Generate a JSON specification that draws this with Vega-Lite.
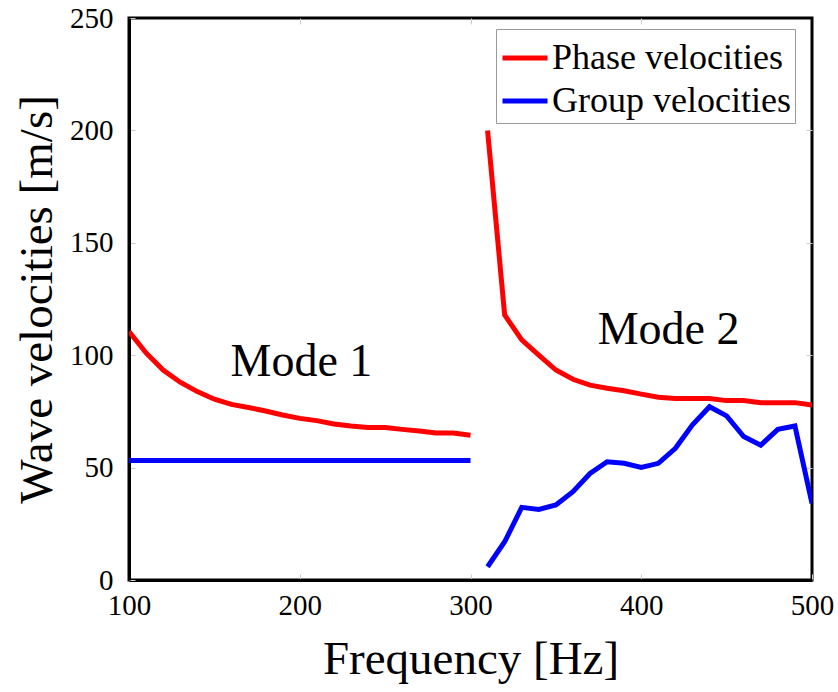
{
  "$schema": "https://vega.github.io/schema/vega-lite/v6.json",
  "width": 683,
  "height": 562,
  "autosize": "none",
  "padding": {"left": 129, "top": 18, "right": 26, "bottom": 112},
  "background": "white",
  "config": {
    "font": "'Liberation Serif', 'Times New Roman', Times, 'DejaVu Serif', serif",
    "view": {"stroke": "black", "strokeWidth": 3},
    "axis": {"grid": false, "domainColor": "black", "domainWidth": 3, "tickColor": "#cccccc", "tickSize": -6, "labelColor": "black", "titleColor": "black", "titleFontWeight": "normal", "labelFont": "'Liberation Serif', 'Times New Roman', Times, 'DejaVu Serif', serif", "titleFont": "'Liberation Serif', 'Times New Roman', Times, 'DejaVu Serif', serif", "labelFontSize": 29, "titleFontSize": 47, "labelFlush": false},
    "legend": {"labelFont": "'Liberation Serif', 'Times New Roman', Times, 'DejaVu Serif', serif"},
    "text": {"font": "'Liberation Serif', 'Times New Roman', Times, 'DejaVu Serif', serif"}
  },
  "datasets": {
    "curves": [
      {"f": 100, "v": 110.5, "type": "Phase velocities", "mode": "1"},
      {"f": 110, "v": 101, "type": "Phase velocities", "mode": "1"},
      {"f": 120, "v": 93.4, "type": "Phase velocities", "mode": "1"},
      {"f": 130, "v": 88, "type": "Phase velocities", "mode": "1"},
      {"f": 140, "v": 83.8, "type": "Phase velocities", "mode": "1"},
      {"f": 150, "v": 80.4, "type": "Phase velocities", "mode": "1"},
      {"f": 160, "v": 78.1, "type": "Phase velocities", "mode": "1"},
      {"f": 170, "v": 76.7, "type": "Phase velocities", "mode": "1"},
      {"f": 180, "v": 75.2, "type": "Phase velocities", "mode": "1"},
      {"f": 190, "v": 73.4, "type": "Phase velocities", "mode": "1"},
      {"f": 200, "v": 71.9, "type": "Phase velocities", "mode": "1"},
      {"f": 210, "v": 70.9, "type": "Phase velocities", "mode": "1"},
      {"f": 220, "v": 69.4, "type": "Phase velocities", "mode": "1"},
      {"f": 230, "v": 68.5, "type": "Phase velocities", "mode": "1"},
      {"f": 240, "v": 67.8, "type": "Phase velocities", "mode": "1"},
      {"f": 250, "v": 67.8, "type": "Phase velocities", "mode": "1"},
      {"f": 260, "v": 67, "type": "Phase velocities", "mode": "1"},
      {"f": 270, "v": 66.3, "type": "Phase velocities", "mode": "1"},
      {"f": 280, "v": 65.4, "type": "Phase velocities", "mode": "1"},
      {"f": 290, "v": 65.4, "type": "Phase velocities", "mode": "1"},
      {"f": 300, "v": 64.4, "type": "Phase velocities", "mode": "1"},
      {"f": 100, "v": 53.2, "type": "Group velocities", "mode": "1"},
      {"f": 300, "v": 53.2, "type": "Group velocities", "mode": "1"},
      {"f": 310, "v": 200, "type": "Phase velocities", "mode": "2"},
      {"f": 320, "v": 117.9, "type": "Phase velocities", "mode": "2"},
      {"f": 330, "v": 106.8, "type": "Phase velocities", "mode": "2"},
      {"f": 340, "v": 100, "type": "Phase velocities", "mode": "2"},
      {"f": 350, "v": 93.4, "type": "Phase velocities", "mode": "2"},
      {"f": 360, "v": 89.3, "type": "Phase velocities", "mode": "2"},
      {"f": 370, "v": 86.7, "type": "Phase velocities", "mode": "2"},
      {"f": 380, "v": 85.3, "type": "Phase velocities", "mode": "2"},
      {"f": 390, "v": 84.2, "type": "Phase velocities", "mode": "2"},
      {"f": 400, "v": 82.7, "type": "Phase velocities", "mode": "2"},
      {"f": 410, "v": 81.3, "type": "Phase velocities", "mode": "2"},
      {"f": 420, "v": 80.7, "type": "Phase velocities", "mode": "2"},
      {"f": 430, "v": 80.7, "type": "Phase velocities", "mode": "2"},
      {"f": 440, "v": 80.7, "type": "Phase velocities", "mode": "2"},
      {"f": 450, "v": 79.8, "type": "Phase velocities", "mode": "2"},
      {"f": 460, "v": 79.8, "type": "Phase velocities", "mode": "2"},
      {"f": 470, "v": 78.9, "type": "Phase velocities", "mode": "2"},
      {"f": 480, "v": 78.9, "type": "Phase velocities", "mode": "2"},
      {"f": 490, "v": 78.9, "type": "Phase velocities", "mode": "2"},
      {"f": 500, "v": 77.8, "type": "Phase velocities", "mode": "2"},
      {"f": 310, "v": 5.9, "type": "Group velocities", "mode": "2"},
      {"f": 320, "v": 17, "type": "Group velocities", "mode": "2"},
      {"f": 330, "v": 32.3, "type": "Group velocities", "mode": "2"},
      {"f": 340, "v": 31.4, "type": "Group velocities", "mode": "2"},
      {"f": 350, "v": 33.4, "type": "Group velocities", "mode": "2"},
      {"f": 360, "v": 39.3, "type": "Group velocities", "mode": "2"},
      {"f": 370, "v": 47.4, "type": "Group velocities", "mode": "2"},
      {"f": 380, "v": 52.6, "type": "Group velocities", "mode": "2"},
      {"f": 390, "v": 51.9, "type": "Group velocities", "mode": "2"},
      {"f": 400, "v": 50.1, "type": "Group velocities", "mode": "2"},
      {"f": 410, "v": 51.9, "type": "Group velocities", "mode": "2"},
      {"f": 420, "v": 58.6, "type": "Group velocities", "mode": "2"},
      {"f": 430, "v": 69, "type": "Group velocities", "mode": "2"},
      {"f": 440, "v": 77.1, "type": "Group velocities", "mode": "2"},
      {"f": 450, "v": 73, "type": "Group velocities", "mode": "2"},
      {"f": 460, "v": 63.8, "type": "Group velocities", "mode": "2"},
      {"f": 470, "v": 60, "type": "Group velocities", "mode": "2"},
      {"f": 480, "v": 67, "type": "Group velocities", "mode": "2"},
      {"f": 490, "v": 68.5, "type": "Group velocities", "mode": "2"},
      {"f": 500, "v": 34.1, "type": "Group velocities", "mode": "2"}
    ],
    "labels": [
      {"f": 201, "v": 97, "label": "Mode 1"},
      {"f": 416, "v": 111, "label": "Mode 2"}
    ]
  },
  "resolve": {"axis": {"x": "independent", "y": "independent"}},
  "layer": [
    {
      "data": {"name": "curves"},
      "mark": {"type": "line", "strokeWidth": 5, "clip": true},
      "encoding": {
        "x": {"field": "f", "type": "quantitative", "scale": {"domain": [100, 500], "nice": false}, "axis": {"values": [100, 200, 300, 400, 500], "title": "Frequency [Hz]", "labelPadding": 17, "titlePadding": 16}},
        "y": {"field": "v", "type": "quantitative", "scale": {"domain": [0, 250], "nice": false}, "axis": {"values": [0, 50, 100, 150, 200, 250], "title": "Wave velocities [m/s]", "labelPadding": 22, "titlePadding": 8}},
        "color": {"field": "type", "type": "nominal", "scale": {"domain": ["Phase velocities", "Group velocities"], "range": ["#ff0000", "#0000ff"]}, "legend": {"title": null, "orient": "none", "legendX": 367, "legendY": 11, "symbolType": "stroke", "symbolSize": 2025, "symbolStrokeWidth": 5, "labelFontSize": 36, "labelColor": "black", "labelLimit": 400, "labelOffset": 2, "rowPadding": -14, "strokeColor": "#999999", "padding": 4, "fillColor": "white"}},
        "detail": {"field": "mode"}
      }
    },
    {
      "data": {"name": "labels"},
      "mark": {"type": "text", "fontSize": 46, "color": "black", "align": "center", "baseline": "middle"},
      "encoding": {
        "x": {"field": "f", "type": "quantitative", "axis": {"orient": "top", "values": [200, 300, 400], "labels": false, "title": null, "domain": false}},
        "y": {"field": "v", "type": "quantitative", "axis": {"orient": "right", "values": [50, 100, 150, 200], "labels": false, "title": null, "domain": false}},
        "text": {"field": "label"}
      }
    }
  ]
}
